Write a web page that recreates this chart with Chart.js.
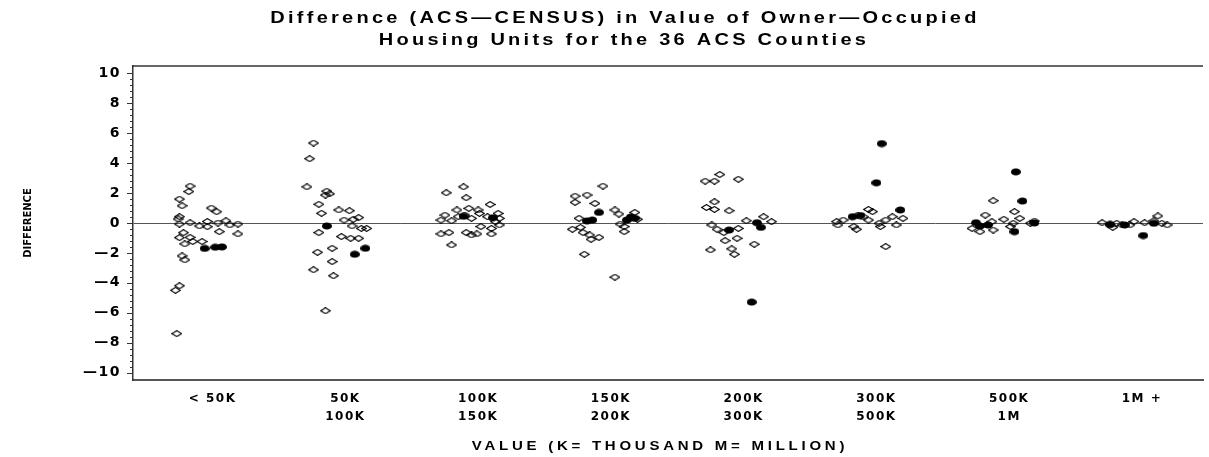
<!DOCTYPE html>
<html>
<head>
<meta charset="utf-8">
<script src="https://cdn.jsdelivr.net/npm/chart.js@4.4.1/dist/chart.umd.min.js"></script>
<style>
  html, body { margin: 0; padding: 0; background: #fff; overflow: hidden; }
  #wrap { width: 1209px; height: 457px; }
</style>
</head>
<body>
<div id="wrap"><canvas id="c" width="1209" height="457"></canvas></div>
<script>
// Value classes shown along the horizontal axis
const categories = [["< 50K"], ["50K", "100K"], ["100K", "150K"], ["150K", "200K"],
                    ["200K", "300K"], ["300K", "500K"], ["500K", "1M"], ["1M +"]];
const titleLines = ["Difference (ACS\u2014CENSUS) in Value of Owner\u2014Occupied",
                    "Housing Units for the 36 ACS Counties"];
const xTitle = "VALUE (K= THOUSAND M= MILLION)";
const yTitle = "DIFFERENCE";
const yLabelled = [-10, -8, -6, -4, -2, 0, 2, 4, 6, 8, 10];

// County points per value class: [spread within the class, ACS minus census difference]
const under50k = [[-0.17, 2.47], [-0.18, 2.1], [-0.25, 1.6], [-0.23, 1.15], [-0.01, 1.0], [0.03, 0.75],
  [-0.25, 0.42], [-0.26, 0.27], [-0.17, 0.02], [-0.25, -0.07], [-0.10, -0.2], [-0.04, 0.1], [-0.04, -0.25],
  [0.04, 0.0], [0.10, 0.15], [0.13, -0.13], [0.19, -0.07], [0.05, -0.58], [0.19, -0.73], [-0.22, -0.65],
  [-0.25, -0.98], [-0.17, -0.96], [-0.15, -1.24], [-0.21, -1.4], [-0.08, -1.24], [-0.23, -2.2],
  [-0.21, -2.47], [-0.25, -4.2], [-0.28, -4.5], [-0.27, -7.4]];
const under50kDots = [[-0.06, -1.7], [0.02, -1.62], [0.07, -1.6]];

const from50k = [[-0.24, 5.35], [-0.27, 4.3], [-0.29, 2.42], [-0.14, 2.13], [-0.12, 1.95], [-0.15, 1.87],
  [-0.20, 1.25], [-0.18, 0.65], [-0.05, 0.87], [0.03, 0.82], [-0.01, 0.2], [0.06, 0.25], [0.10, 0.36],
  [-0.20, -0.64], [0.05, -0.2], [0.12, -0.36], [0.16, -0.36], [-0.03, -0.91], [0.04, -1.02], [0.10, -1.02],
  [-0.10, -1.69], [-0.21, -1.96], [-0.10, -2.58], [-0.24, -3.13], [-0.09, -3.53], [-0.15, -5.87]];
const from50kDots = [[-0.14, -0.2], [0.15, -1.69], [0.07, -2.09]];

const from100k = [[-0.11, 2.42], [-0.24, 2.02], [-0.09, 1.69], [0.09, 1.24], [-0.16, 0.87], [-0.07, 0.98],
  [0.00, 0.87], [0.01, 0.64], [-0.10, 0.53], [-0.25, 0.53], [-0.15, 0.42], [-0.05, 0.31], [0.07, 0.42],
  [0.15, 0.64], [0.16, 0.31], [-0.28, 0.2], [-0.20, 0.15], [0.13, 0.09], [0.02, -0.24], [0.16, -0.13],
  [0.10, -0.36], [-0.28, -0.73], [-0.22, -0.64], [-0.09, -0.64], [-0.01, -0.73], [0.10, -0.73],
  [-0.05, -0.8], [-0.20, -1.47]];
const from100kDots = [[-0.11, 0.45], [0.11, 0.35]];

const from150k = [[-0.06, 2.47], [-0.18, 1.87], [-0.27, 1.8], [-0.27, 1.38], [-0.12, 1.31], [0.03, 0.87],
  [0.06, 0.6], [0.18, 0.71], [-0.24, 0.31], [0.20, 0.25], [0.07, -0.07], [-0.29, -0.42], [-0.23, -0.29],
  [-0.21, -0.64], [-0.16, -0.8], [-0.09, -0.96], [-0.15, -1.09], [0.10, -0.24], [0.10, -0.58],
  [-0.20, -2.09], [0.03, -3.62]];
const from150kDots = [[-0.09, 0.71], [-0.18, 0.13], [-0.14, 0.2], [0.12, 0.2], [0.18, 0.31], [0.15, 0.4]];

const from200k = [[-0.18, 3.24], [-0.22, 2.8], [-0.29, 2.8], [-0.04, 2.93], [-0.22, 1.42], [-0.28, 1.04],
  [-0.22, 0.91], [-0.11, 0.82], [0.02, 0.15], [0.15, 0.42], [0.21, 0.09], [-0.24, -0.13], [-0.20, -0.42],
  [-0.04, -0.36], [-0.15, -0.64], [-0.05, -1.02], [-0.14, -1.18], [-0.25, -1.8], [-0.09, -1.73],
  [-0.07, -2.09], [0.08, -1.42]];
const from200kDots = [[0.10, 0.02], [0.13, -0.29], [-0.11, -0.47], [0.06, -5.29]];

const from300k = [[-0.06, 0.91], [-0.03, 0.76], [-0.14, 0.53], [-0.10, 0.42], [-0.25, 0.2], [-0.30, 0.09],
  [-0.29, -0.13], [-0.17, -0.24], [-0.06, 0.2], [0.02, -0.02], [0.07, 0.2], [0.12, 0.42], [0.20, 0.31],
  [0.15, -0.13], [0.03, -0.24], [-0.15, -0.42], [0.07, -1.58]];
const from300kDots = [[0.04, 5.31], [0.00, 2.69], [0.18, 0.87], [-0.18, 0.42], [-0.12, 0.5]];

const from500k = [[-0.12, 1.49], [0.04, 0.76], [-0.18, 0.53], [-0.04, 0.25], [0.08, 0.31], [0.19, 0.13],
  [-0.13, 0.09], [0.03, -0.02], [0.16, -0.02], [-0.28, -0.36], [-0.22, -0.58], [-0.12, -0.47], [0.01, -0.24]];
const from500kDots = [[0.05, 3.42], [0.10, 1.47], [0.04, -0.58], [-0.25, 0.02], [-0.16, -0.13],
  [-0.22, -0.2], [0.19, 0.0]];

const over1m = [[-0.30, 0.02], [-0.24, -0.13], [-0.19, -0.02], [-0.15, -0.13], [-0.06, 0.09], [-0.09, -0.13],
  [0.02, 0.02], [0.09, 0.15], [0.12, 0.47], [0.15, -0.02], [0.19, -0.13], [-0.22, -0.29]];
const over1mDots = [[0.01, -0.84], [-0.13, -0.13], [0.09, -0.02], [-0.24, -0.1]];

const openByClass = [under50k, from50k, from100k, from150k, from200k, from300k, from500k, over1m];
const dotsByClass = [under50kDots, from50kDots, from100kDots, from150kDots, from200kDots,
                     from300kDots, from500kDots, over1mDots];

function toPoints(groups) {
  const pts = [];
  groups.forEach((group, i) => group.forEach(([spread, diff]) => pts.push({ x: i + 1 + spread, y: diff })));
  return pts;
}

// Marker sprites: an open flattened diamond and a solid oval
function diamondSprite() {
  const c = document.createElement('canvas');
  c.width = 11; c.height = 7;
  const g = c.getContext('2d');
  g.strokeStyle = '#000';
  g.lineWidth = 1.2;
  g.beginPath();
  g.moveTo(0.7, 3.5); g.lineTo(5.5, 0.6); g.lineTo(10.3, 3.5); g.lineTo(5.5, 6.4); g.closePath();
  g.stroke();
  return c;
}
function dotSprite() {
  const c = document.createElement('canvas');
  c.width = 10; c.height = 8;
  const g = c.getContext('2d');
  g.fillStyle = '#000';
  g.beginPath();
  g.ellipse(5, 4, 5, 3.6, 0, 0, Math.PI * 2);
  g.fill();
  return c;
}

const SANS = '"Liberation Sans", Arial, sans-serif';
const WIDE = '"DejaVu Sans", "Liberation Sans", sans-serif';

// Centred, horizontally widened bold text
function wideText(ctx, text, x, y, size, stretch, spacing) {
  ctx.save();
  ctx.translate(x, y);
  ctx.scale(stretch, 1);
  ctx.font = 'bold ' + size + 'px ' + SANS;
  ctx.letterSpacing = spacing + 'px';
  ctx.textAlign = 'center';
  ctx.textBaseline = 'middle';
  ctx.fillStyle = '#000';
  ctx.fillText(text, 0, 0);
  ctx.restore();
}

// Letter spacing for the axis labels, then frame top edge, y tick marks and titles
const decorations = {
  id: 'decorations',
  beforeDraw(chart) {
    chart.ctx.letterSpacing = '1.5px';
  },
  afterDraw(chart) {
    const { ctx, chartArea: a, scales: { y } } = chart;
    ctx.save();
    ctx.letterSpacing = '0px';
    ctx.strokeStyle = '#333';
    ctx.lineWidth = 1.5;
    ctx.beginPath();
    ctx.moveTo(a.left, a.top); ctx.lineTo(a.right, a.top);
    ctx.stroke();

    ctx.lineWidth = 1;
    ctx.beginPath();
    y.ticks.forEach(t => {
      const py = Math.round(y.getPixelForValue(t.value)) + 0.5;
      const major = yLabelled.includes(t.value);
      ctx.moveTo(a.left - (major ? 6 : 3), py);
      ctx.lineTo(a.left, py);
    });
    ctx.stroke();
    ctx.restore();

    wideText(ctx, titleLines[0], 625, 19, 16, 1.25, 2.6);
    wideText(ctx, titleLines[1], 624, 41, 16, 1.25, 2.6);
    wideText(ctx, xTitle, 660, 447, 12, 1.25, 3.0);

    ctx.save();
    ctx.letterSpacing = '0px';
    ctx.translate(28, 223);
    ctx.rotate(-Math.PI / 2);
    ctx.font = 'bold 10px ' + WIDE;
    ctx.textAlign = 'center';
    ctx.textBaseline = 'middle';
    ctx.fillStyle = '#000';
    ctx.fillText(yTitle, 0, 0);
    ctx.restore();
    ctx.letterSpacing = '0px';
  }
};

new Chart(document.getElementById('c'), {
  type: 'scatter',
  data: {
    datasets: [
      {
        label: 'county',
        data: toPoints(openByClass),
        pointStyle: diamondSprite(),
        pointRadius: 5
      },
      {
        label: 'flagged county',
        data: toPoints(dotsByClass),
        pointStyle: dotSprite(),
        pointRadius: 5
      }
    ]
  },
  plugins: [decorations],
  options: {
    responsive: false,
    animation: false,
    devicePixelRatio: 1,
    layout: { padding: { top: 66, right: 0, left: 0, bottom: 0 } },
    plugins: { legend: { display: false }, tooltip: { enabled: false }, title: { display: false } },
    scales: {
      x: {
        type: 'linear',
        min: 0.4,
        max: 8.46,
        afterFit(scale) { scale.height = 77; scale.paddingLeft = 0; scale.paddingRight = 0; },
        afterBuildTicks(scale) { scale.ticks = categories.map((_, i) => ({ value: i + 1 })); },
        grid: { display: false },
        border: { display: true, color: '#555', width: 2 },
        ticks: {
          autoSkip: false,
          maxRotation: 0,
          padding: 2,
          color: '#000',
          font: { family: WIDE, size: 12, weight: 'bold', lineHeight: 1.5 },
          callback: (v) => categories[Math.round(v) - 1]
        }
      },
      y: {
        type: 'linear',
        min: -10.5,
        max: 10.5,
        afterFit(scale) { scale.width = 133; scale.paddingTop = 0; scale.paddingBottom = 0; },
        afterBuildTicks(scale) {
          const t = [];
          for (let i = 0; i <= 50; i++) t.push({ value: Math.round((-10 + i * 0.4) * 10) / 10 });
          scale.ticks = t;
        },
        grid: {
          drawTicks: false,
          color: (c) => (c.tick && c.tick.value === 0 ? '#555' : 'rgba(0,0,0,0)'),
          lineWidth: 1
        },
        border: { display: true, color: '#333', width: 1.5 },
        ticks: {
          autoSkip: false,
          padding: 12,
          color: '#000',
          font: { family: WIDE, size: 14, weight: 'bold' },
          callback: (v) => (yLabelled.includes(v) ? (v < 0 ? '\u2014' + Math.abs(v) : String(v)) : '')
        }
      }
    }
  }
});
</script>
</body>
</html>
